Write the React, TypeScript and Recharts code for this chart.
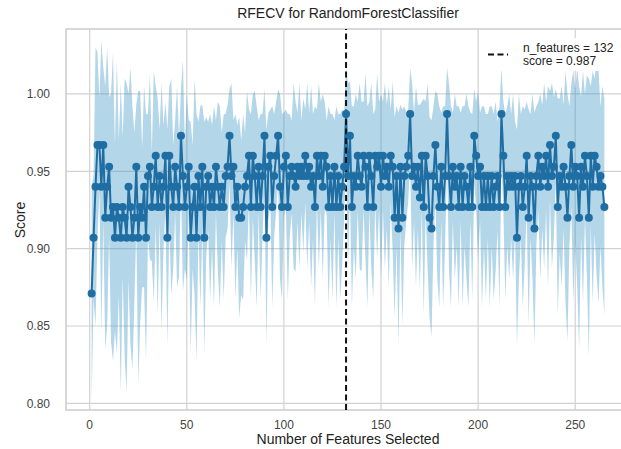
import React from "react"
import { Area, CartesianGrid, ComposedChart, Line, ReferenceArea, ReferenceLine, XAxis, YAxis } from "recharts"

// mean cross-validated score for each number of features (1..265)
const scores = [
  0.871, 0.907, 0.940, 0.967, 0.967, 0.940, 0.967, 0.920, 0.940, 0.953,
  0.920, 0.927, 0.907, 0.927, 0.920, 0.907, 0.927, 0.920, 0.907, 0.940,
  0.927, 0.907, 0.920, 0.953, 0.907, 0.927, 0.920, 0.940, 0.907, 0.947,
  0.953, 0.927, 0.940, 0.960, 0.927, 0.947, 0.927, 0.940, 0.960, 0.907,
  0.960, 0.940, 0.927, 0.953, 0.940, 0.927, 0.973, 0.947, 0.927, 0.940,
  0.953, 0.907, 0.927, 0.940, 0.907, 0.947, 0.927, 0.953, 0.907, 0.940,
  0.947, 0.927, 0.940, 0.927, 0.953, 0.940, 0.927, 0.940, 0.927, 0.947,
  0.953, 0.973, 0.947, 0.953, 0.927, 0.940, 0.920, 0.920, 0.927, 0.940,
  0.947, 0.960, 0.927, 0.960, 0.947, 0.927, 0.953, 0.927, 0.947, 0.973,
  0.907, 0.953, 0.960, 0.927, 0.947, 0.960, 0.973, 0.940, 0.927, 0.953,
  0.960, 0.927, 0.947, 0.953, 0.947, 0.940, 0.953, 0.947, 0.953, 0.947,
  0.960, 0.947, 0.953, 0.940, 0.947, 0.927, 0.960, 0.947, 0.960, 0.940,
  0.960, 0.953, 0.927, 0.947, 0.927, 0.953, 0.927, 0.947, 0.927, 0.940,
  0.953, 0.987, 0.947, 0.973, 0.927, 0.947, 0.940, 0.960, 0.947, 0.940,
  0.960, 0.953, 0.927, 0.960, 0.947, 0.927, 0.960, 0.953, 0.960, 0.940,
  0.960, 0.947, 0.953, 0.940, 0.960, 0.953, 0.920, 0.947, 0.913, 0.953,
  0.920, 0.947, 0.953, 0.960, 0.987, 0.947, 0.953, 0.940, 0.953, 0.933,
  0.960, 0.927, 0.960, 0.947, 0.920, 0.913, 0.947, 0.967, 0.940, 0.927,
  0.953, 0.927, 0.947, 0.987, 0.947, 0.927, 0.953, 0.940, 0.947, 0.927,
  0.953, 0.927, 0.947, 0.940, 0.927, 0.953, 0.927, 0.973, 0.960, 0.947,
  0.953, 0.927, 0.947, 0.927, 0.947, 0.927, 0.947, 0.927, 0.940, 0.947,
  0.927, 0.987, 0.960, 0.927, 0.947, 0.940, 0.947, 0.940, 0.947, 0.907,
  0.940, 0.947, 0.927, 0.940, 0.960, 0.920, 0.947, 0.940, 0.913, 0.947,
  0.960, 0.940, 0.953, 0.947, 0.960, 0.940, 0.967, 0.947, 0.953, 0.973,
  0.927, 0.947, 0.940, 0.953, 0.940, 0.920, 0.947, 0.967, 0.940, 0.953,
  0.947, 0.920, 0.953, 0.940, 0.960, 0.947, 0.920, 0.960, 0.940, 0.960,
  0.953, 0.940, 0.947, 0.940, 0.927,
]

// standard deviation of the score across folds (half-width of the shaded band)
const spread = [
  0.070, 0.040, 0.090, 0.060, 0.030, 0.095, 0.050, 0.085, 0.090, 0.045,
  0.080, 0.100, 0.060, 0.095, 0.050, 0.100, 0.045, 0.090, 0.100, 0.060,
  0.090, 0.085, 0.055, 0.040, 0.095, 0.075, 0.045, 0.065, 0.080, 0.040,
  0.060, 0.035, 0.075, 0.045, 0.070, 0.030, 0.080, 0.040, 0.035, 0.070,
  0.045, 0.070, 0.040, 0.030, 0.065, 0.045, 0.030, 0.075, 0.040, 0.060,
  0.030, 0.075, 0.040, 0.070, 0.080, 0.035, 0.065, 0.040, 0.075, 0.045,
  0.035, 0.060, 0.040, 0.065, 0.030, 0.055, 0.065, 0.035, 0.060, 0.040,
  0.040, 0.030, 0.060, 0.030, 0.060, 0.040, 0.065, 0.050, 0.060, 0.035,
  0.055, 0.030, 0.060, 0.040, 0.055, 0.065, 0.030, 0.060, 0.040, 0.030,
  0.070, 0.035, 0.030, 0.065, 0.040, 0.035, 0.030, 0.060, 0.060, 0.035,
  0.030, 0.060, 0.040, 0.030, 0.060, 0.055, 0.035, 0.060, 0.030, 0.050,
  0.030, 0.060, 0.035, 0.065, 0.040, 0.065, 0.030, 0.060, 0.035, 0.060,
  0.035, 0.030, 0.065, 0.040, 0.060, 0.030, 0.065, 0.040, 0.060, 0.050,
  0.035, 0.030, 0.060, 0.035, 0.065, 0.045, 0.060, 0.035, 0.060, 0.055,
  0.035, 0.060, 0.065, 0.035, 0.060, 0.060, 0.030, 0.060, 0.035, 0.060,
  0.035, 0.060, 0.040, 0.065, 0.030, 0.055, 0.065, 0.045, 0.075, 0.040,
  0.070, 0.045, 0.035, 0.030, 0.030, 0.060, 0.035, 0.065, 0.040, 0.060,
  0.035, 0.070, 0.035, 0.060, 0.065, 0.070, 0.045, 0.035, 0.060, 0.065,
  0.035, 0.065, 0.045, 0.030, 0.060, 0.065, 0.035, 0.060, 0.045, 0.065,
  0.035, 0.065, 0.045, 0.060, 0.065, 0.035, 0.060, 0.030, 0.035, 0.055,
  0.035, 0.065, 0.045, 0.060, 0.040, 0.065, 0.045, 0.060, 0.055, 0.035,
  0.065, 0.030, 0.035, 0.060, 0.045, 0.060, 0.040, 0.060, 0.035, 0.070,
  0.060, 0.040, 0.065, 0.050, 0.035, 0.070, 0.040, 0.060, 0.075, 0.045,
  0.035, 0.060, 0.040, 0.060, 0.035, 0.065, 0.035, 0.060, 0.045, 0.030,
  0.070, 0.050, 0.065, 0.040, 0.075, 0.080, 0.045, 0.040, 0.075, 0.050,
  0.070, 0.085, 0.045, 0.075, 0.040, 0.065, 0.090, 0.045, 0.075, 0.050,
  0.070, 0.075, 0.045, 0.065, 0.070,
]

const xTicks = [0, 50, 100, 150, 200, 250]
const yTicks = [0.8, 0.85, 0.9, 0.95, 1.0]
const bestFeatures = 132
const bestScore = 0.987

const data = scores.map((s, i) => ({
  n: i + 1,
  score: s,
  band: [s - spread[i], s + spread[i]],
}))

const font = "'Liberation Sans', Arial, sans-serif"
const blue = "#1f6ea3"
const grid = "#d2d2d2"

export default function App() {
  return (
    <div
      style={{
        position: "absolute",
        left: 0,
        top: 0,
        width: 621,
        height: 449,
        overflow: "hidden",
        background: "#fff",
        fontFamily: font,
      }}
    >
      <ComposedChart width={640} height={449} data={data} margin={{ top: 29, right: 10, left: 10, bottom: 0 }}>
        <CartesianGrid stroke={grid} strokeWidth={1.2} />
        <ReferenceArea x1={-12.2} x2={278.2} y1={0.7957} y2={1.042} fill="none" stroke={grid} strokeWidth={1.5} ifOverflow="visible" />
        <XAxis
          dataKey="n"
          type="number"
          domain={[-12.2, 278.2]}
          ticks={xTicks}
          allowDataOverflow
          height={39}
          tickLine={false}
          axisLine={false}
          tickMargin={4}
          tick={{ fontSize: 12, fill: "#444", fontFamily: font }}
        />
        <YAxis
          type="number"
          domain={[0.7957, 1.042]}
          ticks={yTicks}
          allowDataOverflow
          width={56}
          tickLine={false}
          axisLine={false}
          tickMargin={10}
          tickFormatter={(v: number) => v.toFixed(2)}
          tick={{ fontSize: 12, fill: "#444", fontFamily: font }}
        />
        <Area dataKey="band" type="linear" stroke="none" fill="#3a93c4" fillOpacity={0.38} isAnimationActive={false} />
        <Line
          dataKey="score"
          type="linear"
          stroke={blue}
          strokeWidth={2}
          dot={{ r: 4, fill: blue, stroke: blue, strokeWidth: 0 }}
          isAnimationActive={false}
        />
        <ReferenceLine x={bestFeatures} stroke="#111" strokeWidth={2} strokeDasharray="6 3.5" />
      </ComposedChart>

      <div style={{ position: "absolute", left: 66, width: 564, top: 5, textAlign: "center", fontSize: 14, lineHeight: "16px", color: "#222" }}>
        RFECV for RandomForestClassifier
      </div>
      <div style={{ position: "absolute", left: 66, width: 564, top: 431, textAlign: "center", fontSize: 14, lineHeight: "16px", color: "#222" }}>
        Number of Features Selected
      </div>
      <div
        style={{
          position: "absolute",
          left: 20,
          top: 220,
          fontSize: 14,
          lineHeight: "16px",
          color: "#222",
          transform: "translate(-50%, -50%) rotate(-90deg)",
        }}
      >
        Score
      </div>

      <div
        style={{
          position: "absolute",
          left: 480,
          top: 38,
          width: 160,
          height: 33,
          background: "rgba(255,255,255,0.85)",
          display: "flex",
          alignItems: "center",
        }}
      >
        <svg width={36} height={33} style={{ flex: "none" }}>
          <line x1={8} x2={28} y1={16.5} y2={16.5} stroke="#111" strokeWidth={2} strokeDasharray="6 3.5" />
        </svg>
        <div style={{ fontSize: 12, lineHeight: "13px", color: "#222", marginLeft: 7 }}>
          n_features = {bestFeatures}
          <br />
          score = {bestScore}
        </div>
      </div>
    </div>
  )
}
